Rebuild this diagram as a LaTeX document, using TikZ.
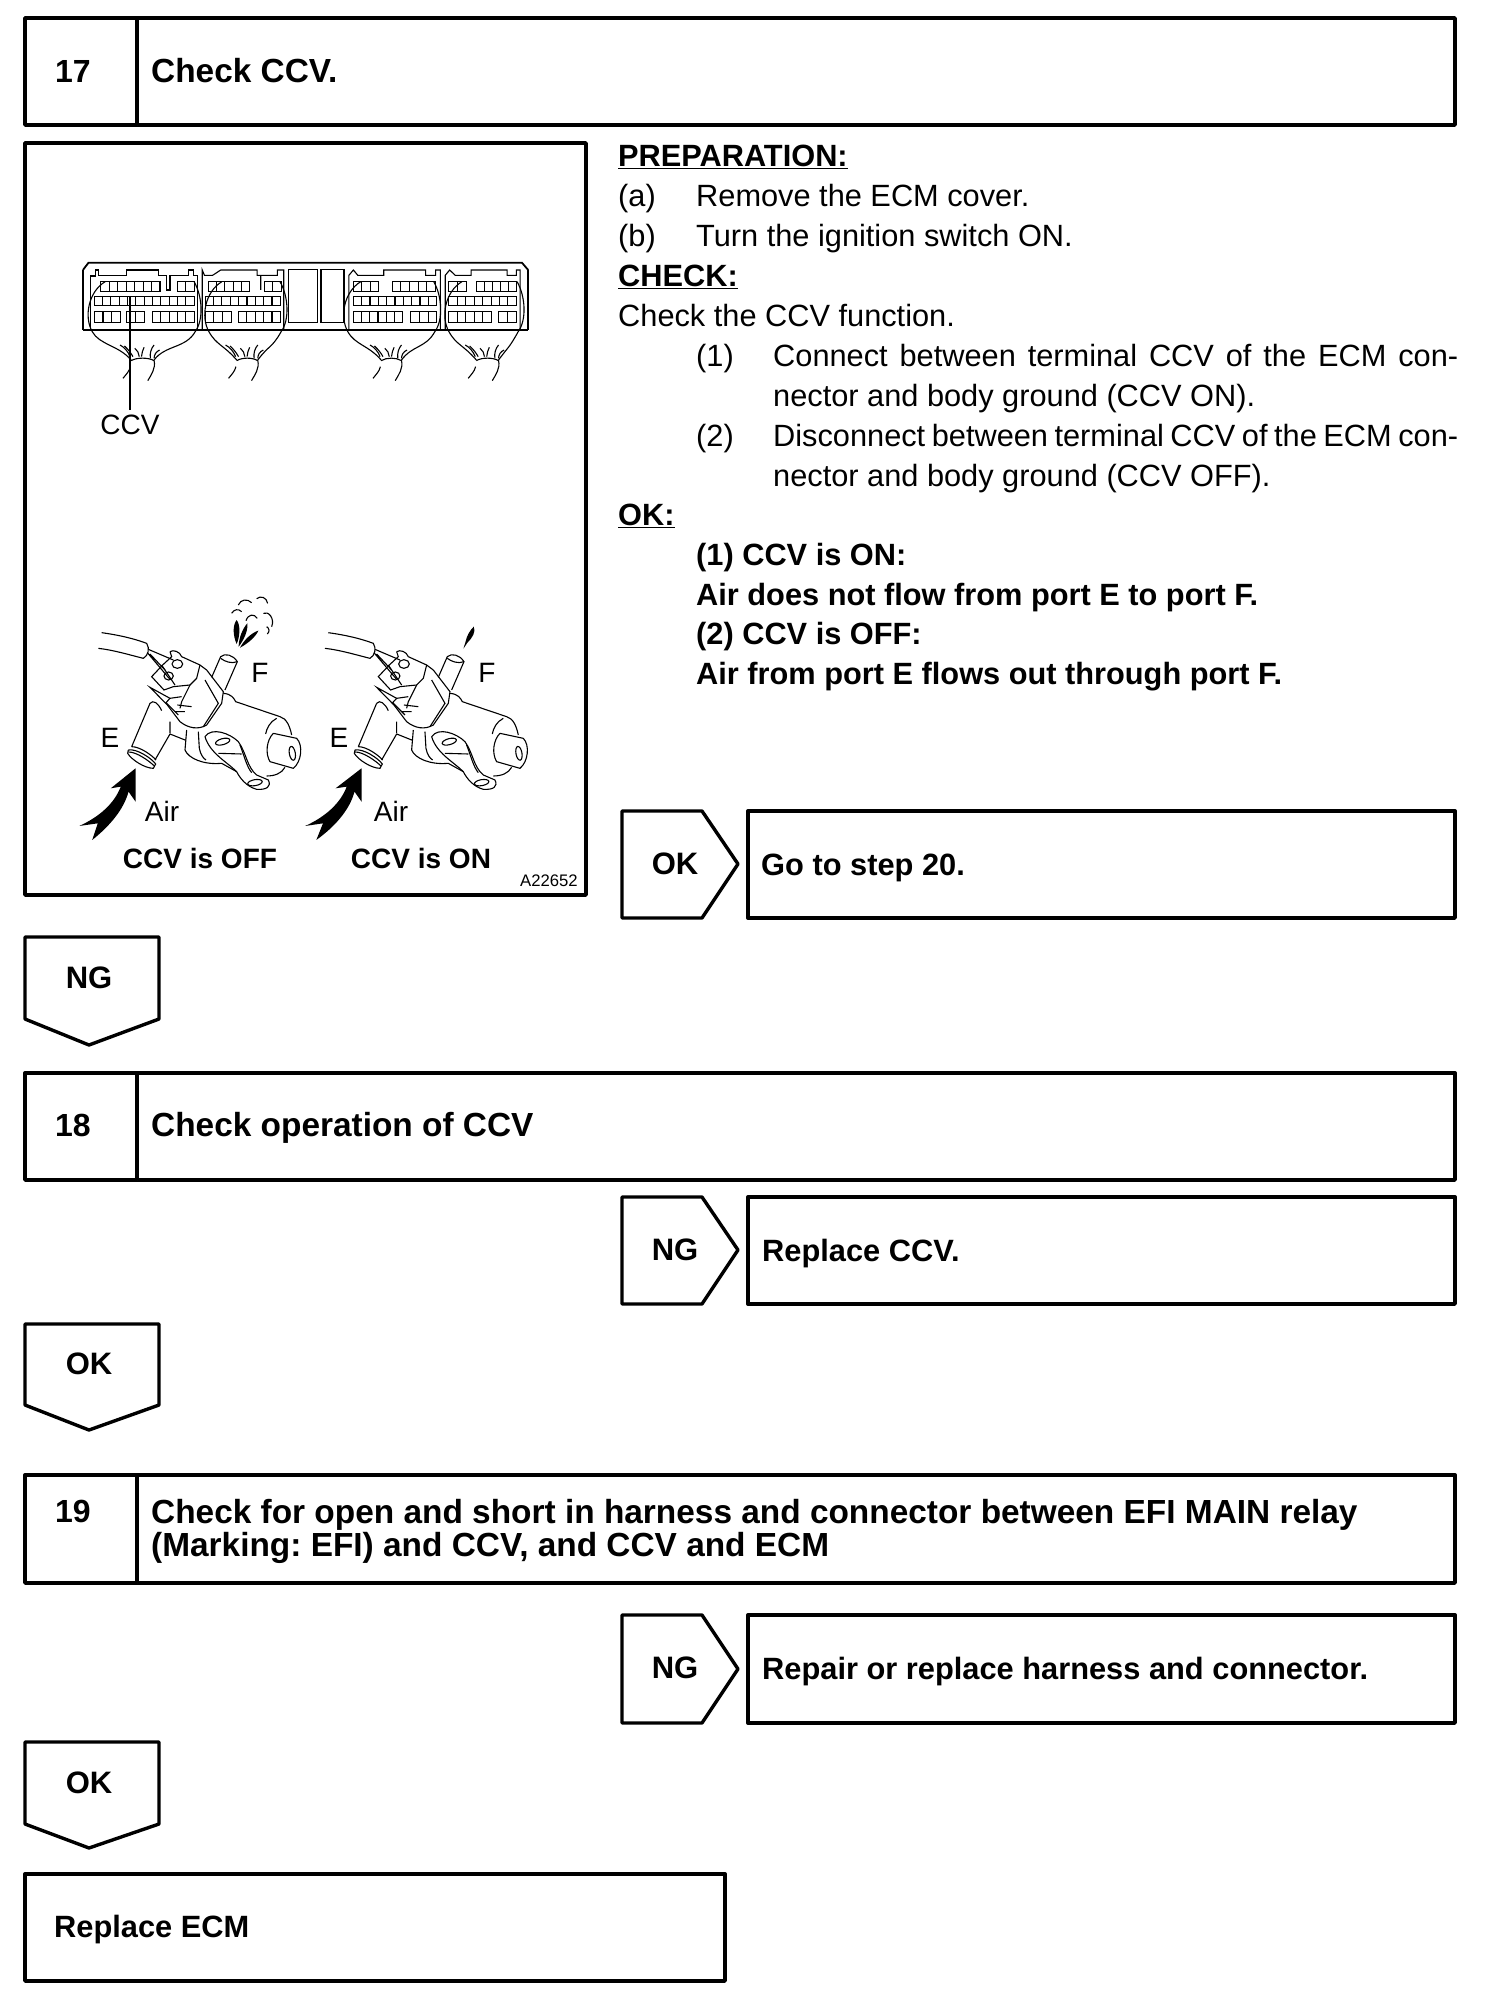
\documentclass[tikz,border=0pt]{standalone}
\usepackage{fontspec}
\setmainfont{Liberation Sans}
\frenchspacing
\newcommand{\fsz}[1]{\fontsize{#1}{#1}\selectfont}
\newcommand{\cellrow}[5]{% x1 x2 n y1 y2
  \draw[fine] (#1,#4) rectangle (#2,#5);
  \foreach \ci in {1,...,#3}{\draw[fine] ({#1+(#2-#1)*\ci/#3},#4) -- ({#1+(#2-#1)*\ci/#3},#5);}
}
\newcommand{\harn}[4]{% L R a b
  \draw[fine] (#1+50,425) .. controls (#1+5,455) and (#1-8,530) .. (#1+15,575) .. controls (#1+35,615) and (#3-35,615) .. (#3,660);
  \draw[fine] (#2-18,425) .. controls (#2+5,470) and (#2+8,540) .. (#2-15,575) .. controls (#2-40,625) and (#4+30,615) .. (#4,660);
  \draw[fine] (#3,662) .. controls (#3+15,652) and (#4-15,652) .. (#4,662) .. controls (#4+5,685) and (#4-8,705) .. (#4-17,722);
  \draw[fine] (#3-2,680) .. controls (#3-5,695) and (#3-15,705) .. (#3-22,715);
  \draw[fine] (#3-3,650) .. controls (#3-8,635) and (#3-18,622) .. (#3-30,615);
  \draw[fine] (#3+5,650) .. controls (#3,640) and (#3-8,628) .. (#3-18,618);
  \draw[fine] (#3+22,650) .. controls (#3+20,640) and (#3+18,630) .. (#3+10,625);
  \draw[fine] (#3+28,650) .. controls (#3+30,640) and (#3+30,630) .. (#3+35,622);
  \draw[fine] (#4-10,655) .. controls (#4-12,640) and (#4-8,625) .. (#4,615);
  \draw[fine] (#4,655) .. controls (#4,645) and (#4+5,635) .. (#4+15,630);
}
\newcommand{\valve}{%
  % cable
  \draw[fine] (35,128) .. controls (85,135) and (130,145) .. (170,160) .. controls (180,175) and (175,197) .. (160,205) .. controls (120,195) and (70,180) .. (25,175);
  % wires
  \draw[fine] (175,178) -- (250,210) (180,192) -- (225,240) (172,188) -- (240,268);
  % plug head
  \draw[fine] (240,185) .. controls (250,178) and (270,185) .. (275,200) -- (330,225) -- (350,240);
  \draw[fine] (240,185) -- (245,200) -- (218,225) -- (185,260) -- (222,300) -- (250,290) -- (300,285) -- (320,265) -- (330,225);
  \draw[fine] (262,222) ellipse[x radius=16,y radius=13];
  \draw[fine] (236,258) ellipse[x radius=14,y radius=12];
  \draw[fine] (215,225) -- (255,285) (300,285) -- (275,335) -- (270,355);
  % port F
  \draw[fine] (365,262) -- (392,200) .. controls (405,188) and (430,195) .. (442,215) -- (405,300);
  \draw[fine] (392,205) .. controls (405,215) and (425,222) .. (442,215);
  % housing
  \draw[fine] (350,240) -- (400,305) -- (395,340) -- (350,405) .. controls (325,420) and (295,415) .. (270,395) -- (232,345) -- (180,292) -- (240,325) -- (275,320);
  \draw[fine] (345,270) -- (385,340) -- (340,410);
  \draw[fine] (240,325) -- (228,338) -- (265,375) (262,345) -- (305,350) (255,365) -- (285,365);
  % cylinder
  \draw[fine] (400,310) .. controls (425,312) and (432,325) .. (437,335) -- (570,380) .. controls (590,385) and (600,410) .. (605,435);
  \draw[fine] (560,385) .. controls (540,395) and (530,415) .. (527,432);
  \draw[fine] (550,430) -- (620,445) .. controls (640,465) and (635,515) .. (610,535) -- (540,515) .. controls (525,490) and (530,450) .. (550,430);
  \draw[fine,rotate around={10:(607,490)}] (607,490) ellipse[x radius=9,y radius=21];
  \draw[fine] (585,532) .. controls (575,550) and (555,558) .. (530,558);
  % port E
  \draw[fine] (180,340) -- (125,470) (240,432) -- (195,510);
  \draw[fine] (180,340) .. controls (190,328) and (205,340) .. (215,362) (240,395) -- (240,430);
  \draw[fine] (125,470) .. controls (150,470) and (185,495) .. (198,510);
  \draw[fine] (115,480) .. controls (140,475) and (185,505) .. (197,522) -- (190,535) .. controls (165,535) and (125,510) .. (113,490) -- (115,480);
  \draw[fine] (115,486) .. controls (140,485) and (180,515) .. (193,528);
  % base
  \draw[fine] (240,432) -- (285,450) (290,420) -- (285,480) .. controls (295,505) and (340,525) .. (395,520) -- (440,545);
  % bracket
  \draw[fine] (345,440) .. controls (365,410) and (420,430) .. (445,455) .. controls (470,490) and (470,530) .. (500,555) -- (535,570) .. controls (545,590) and (530,600) .. (500,598) .. controls (470,590) and (450,565) .. (440,545) .. controls (410,515) and (360,490) .. (345,440);
  \draw[fine,rotate around={15:(398,455)}] (398,455) ellipse[x radius=22,y radius=9];
  \draw[fine,rotate around={10:(495,578)}] (495,578) ellipse[x radius=22,y radius=9];
  \draw[fine] (325,425) -- (328,475) .. controls (332,495) and (340,505) .. (348,510) (385,490) -- (455,492) (450,465) .. controls (462,495) and (470,530) .. (485,548);
}
\tikzset{
  box/.style={draw=black,line width=3.4pt,line join=round,fill=white},
  fine/.style={draw=black,line width=1.1pt},
  lab/.style={inner sep=0pt,anchor=base west,font=\fsz{33.4}\bfseries},
  labsm/.style={inner sep=0pt,anchor=base west,font=\fsz{30.8}\bfseries},
  tag/.style={inner sep=0pt,anchor=center,font=\fsz{31}\bfseries},
  body/.style={inner sep=0pt,anchor=base west,font=\fsz{30.75}},
  bodyb/.style={inner sep=0pt,anchor=base west,font=\fsz{30.75}\bfseries},
  illus/.style={inner sep=0pt,anchor=center,font=\fsz{28}},
  illusb/.style={inner sep=0pt,anchor=center,font=\fsz{28}\bfseries},
}
\begin{document}
\begin{tikzpicture}[x=1pt,y=-1pt]
\useasboundingbox (0,0) rectangle (1504,2006);
\fill[white] (0,0) rectangle (1504,2006);
% step 17
\draw[box] (25,18) rectangle (1455,125);
\draw[box] (137,18) -- (137,125);
\node[tag,font=\fsz{32}\bfseries] (n17) at (73,71) {17};
\node[lab] (t17) at (151,82) {Check CCV.};
% illustration
\draw[box] (25,143) rectangle (586,895);
\begin{scope}[shift={(20,140)},xscale=.3704,yscale=.3333]
  \draw[black,line width=1.8pt] (170,390) -- (185,368) -- (1355,368) -- (1372,390);
  \draw[black,line width=1.8pt] (170,390) -- (170,570) (1372,390) -- (1372,570);
  \draw[black,line width=2.6pt] (170,570) -- (1372,570);
  \draw[fine] (190,570) -- (190,408) -- (203,408) -- (203,390) -- (213,390) -- (213,406) -- (288,406) -- (288,390) -- (375,390) -- (375,406) -- (395,406) -- (395,450) -- (405,450) -- (405,406) -- (455,406) -- (455,390) -- (468,390) -- (468,406) -- (480,406) -- (480,570);
  \draw[fine] (492,570) -- (492,390) -- (498,406) -- (520,406) -- (542,390) -- (640,390) -- (640,406) -- (650,406) -- (650,450) (650,406) -- (695,406) -- (695,390) -- (712,390) -- (712,570);
  \draw[fine] (888,570) -- (888,406) -- (900,390) -- (912,406) -- (982,406) -- (982,390) -- (1095,390) -- (1095,406) -- (1122,406) -- (1122,390) -- (1135,390) -- (1135,570);
  \draw[fine] (1148,570) -- (1148,406) -- (1160,390) -- (1175,406) -- (1218,406) -- (1218,390) -- (1315,390) -- (1315,406) -- (1340,406) -- (1340,390) -- (1350,390) -- (1350,570);
  \draw[black,line width=1.5pt] (725,548) -- (725,388) -- (803,388) -- (803,548) -- cycle (812,548) -- (812,388) -- (875,388) -- (875,548) -- cycle;
  \cellrow{218}{378}{7}{425}{455}\cellrow{425}{470}{2}{425}{455}
  \cellrow{200}{470}{12}{470}{497}
  \cellrow{200}{272}{3}{515}{547}\cellrow{288}{336}{2}{515}{547}\cellrow{358}{470}{5}{515}{547}
  \cellrow{508}{620}{5}{425}{455}\cellrow{660}{705}{2}{425}{455}
  \cellrow{500}{703}{9}{470}{497}
  \cellrow{500}{570}{3}{515}{547}\cellrow{590}{703}{5}{515}{547}
  \cellrow{900}{968}{3}{425}{455}\cellrow{1005}{1122}{5}{425}{455}
  \cellrow{900}{1125}{10}{470}{497}
  \cellrow{900}{1033}{6}{515}{547}\cellrow{1055}{1125}{3}{515}{547}
  \cellrow{1158}{1205}{2}{425}{455}\cellrow{1232}{1340}{5}{425}{455}
  \cellrow{1158}{1340}{8}{470}{497}
  \cellrow{1158}{1272}{5}{515}{547}\cellrow{1292}{1340}{2}{515}{547}
  \harn{180}{488}{300}{362}
  \harn{495}{720}{585}{642}
  \harn{870}{1135}{975}{1030}
  \harn{1143}{1360}{1232}{1292}
  \coordinate (pin) at (297,470);
\end{scope}
\node[illus] (lccv) at (130,425) {CCV};
\draw[black,line width=1.8pt,shorten <=5pt] (lccv.north) -- (pin);
\begin{scope}[shift={(90,590)},scale=.3333]
  \valve
  \begin{scope}[shift={(680,0)}]\valve\end{scope}
  % spray
  \fill (440,90) .. controls (452,105) and (450,140) .. (440,162) .. controls (428,135) and (428,105) .. (440,90);
  \fill (472,100) .. controls (475,120) and (462,150) .. (446,170) .. controls (446,145) and (458,115) .. (472,100);
  \fill (505,122) .. controls (498,140) and (472,162) .. (450,173) .. controls (462,150) and (485,128) .. (505,122);
  \draw[fine] (445,45) .. controls (452,28) and (472,25) .. (485,38);
  \draw[fine] (500,26) .. controls (512,16) and (530,22) .. (533,40);
  \draw[fine] (425,70) .. controls (432,58) and (445,55) .. (455,65);
  \draw[fine] (468,92) .. controls (475,72) and (492,70) .. (502,85);
  \draw[fine] (520,70) .. controls (535,62) and (555,85) .. (545,110);
  \draw[fine] (530,110) .. controls (538,115) and (540,125) .. (532,132);
\end{scope}
\begin{scope}[shift={(20,570)},xscale=.3704,yscale=.3333]
  \fill (312,595) -- (312,695) -- (293,665) .. controls (280,720) and (240,770) .. (195,810) -- (210,760) -- (160,768) .. controls (215,740) and (255,700) .. (272,650) -- (245,655) -- cycle;
  \fill (922,595) -- (922,695) -- (903,665) .. controls (890,720) and (850,770) .. (800,810) -- (818,760) -- (770,768) .. controls (825,740) and (865,700) .. (882,650) -- (852,655) -- cycle;
  \fill (1225,170) .. controls (1232,185) and (1220,205) .. (1208,218) -- (1197,236) -- (1203,215) .. controls (1205,200) and (1215,180) .. (1225,170);
\end{scope}
\node[illus] (le1) at (110,738) {E};
\node[illus] (le2) at (339,738) {E};
\node[illus] (lf1) at (260,673) {F};
\node[illus] (lf2) at (487,673) {F};
\node[illus] (la1) at (162,811) {Air};
\node[illus] (la2) at (391,811) {Air};
\node[illusb] (loff) at (200,858) {CCV is OFF};
\node[illusb] (lon) at (421,858) {CCV is ON};
\node[inner sep=0pt,font=\fsz{16.7}] (lcode) at (549,881) {A22652};
% text
\node[bodyb] (p1) at (618,166) {\underline{PREPARATION:}};
\node[body] (p2a) at (618,206) {(a)};
\node[body] (p2b) at (696,206) {Remove the ECM cover.};
\node[body] (p3a) at (618,246) {(b)};
\node[body] (p3b) at (696,246) {Turn the ignition switch ON.};
\node[bodyb] (p4) at (618,286) {\underline{CHECK:}};
\node[body] (p5) at (618,326) {Check the CCV function.};
\node[body] (p6a) at (696,366) {(1)};
\node[body] (p6b) at (773,366) {\makebox[685pt][s]{Connect between terminal CCV of the ECM con-}};
\node[body] (p7) at (773,406) {nector and body ground (CCV ON).};
\node[body] (p8a) at (696,446) {(2)};
\node[body] (p8b) at (773,446) {\makebox[685pt][s]{Disconnect between terminal CCV of the ECM con-}};
\node[body] (p9) at (773,486) {nector and body ground (CCV OFF).};
\node[bodyb] (p10) at (618,525) {\underline{OK:}};
\node[bodyb] (p11) at (696,565) {(1) CCV is ON:};
\node[bodyb] (p12) at (696,605) {Air does not flow from port E to port F.};
\node[bodyb] (p13) at (696,644) {(2) CCV is OFF:};
\node[bodyb] (p14) at (696,684) {Air from port E flows out through port F.};
% OK -> go to 20
\draw[box] (622,811) -- (702,811) -- (738,864) -- (702,918) -- (622,918) -- cycle;
\node[tag] (tok1) at (675,864) {OK};
\draw[box] (748,811) rectangle (1455,918);
\node[labsm] (tgo) at (761,875) {Go to step 20.};
% NG down
\draw[box] (25,937) -- (159,937) -- (159,1019) -- (89,1045) -- (25,1019) -- cycle;
\node[tag] (tng1) at (89,978) {NG};
% step 18
\draw[box] (25,1073) rectangle (1455,1180);
\draw[box] (137,1073) -- (137,1180);
\node[tag,font=\fsz{32}\bfseries] (n18) at (73,1125) {18};
\node[lab] (t18) at (151,1136) {Check operation of CCV};
\draw[box] (622,1197) -- (702,1197) -- (738,1250) -- (702,1304) -- (622,1304) -- cycle;
\node[tag] (tng2) at (675,1250) {NG};
\draw[box] (748,1197) rectangle (1455,1304);
\node[labsm] (trep) at (762,1261) {Replace CCV.};
\draw[box] (25,1324) -- (159,1324) -- (159,1405) -- (89,1430) -- (25,1405) -- cycle;
\node[tag] (tok2) at (89,1364) {OK};
% step 19
\draw[box] (25,1475) rectangle (1455,1583);
\draw[box] (137,1475) -- (137,1583);
\node[tag,font=\fsz{32}\bfseries] (n19) at (73,1511) {19};
\node[lab] (t19a) at (151,1523) {Check for open and short in harness and connector between EFI MAIN relay};
\node[lab] (t19b) at (151,1556) {(Marking: EFI) and CCV, and CCV and ECM};
\draw[box] (622,1615) -- (702,1615) -- (738,1669) -- (702,1723) -- (622,1723) -- cycle;
\node[tag] (tng3) at (675,1668) {NG};
\draw[box] (748,1615) rectangle (1455,1723);
\node[labsm] (trh) at (762,1679) {Repair or replace harness and connector.};
\draw[box] (25,1742) -- (159,1742) -- (159,1824) -- (89,1848) -- (25,1824) -- cycle;
\node[tag] (tok3) at (89,1783) {OK};
\draw[box] (25,1874) rectangle (725,1981);
\node[labsm] (tecm) at (54,1937) {Replace ECM};
\end{tikzpicture}
\end{document}
